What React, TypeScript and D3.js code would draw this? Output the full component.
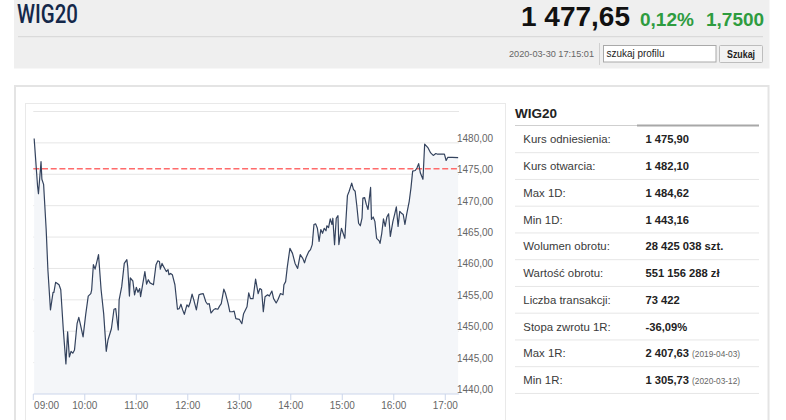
import React from "react";
import * as d3 from "d3";

// ---- data ----
const indexName = "WIG20";
const lastPrice = "1 477,65";
const changePct = "0,12%";
const changeAbs = "1,7500";
const quoteTime = "2020-03-30 17:15:01";
const referencePrice = 1475.9;

// minutes after 09:00 and index level
const sessionMinutes = [
  1, 5, 6, 9, 10, 12, 15, 17, 20, 23, 24, 26, 30, 32, 35, 38, 40, 42, 44, 46, 48, 51, 53, 55, 58, 61, 64, 67, 68, 70,
  72, 76, 79, 82, 85, 87, 91, 94, 96, 99, 100, 103, 106, 109, 110, 112, 113, 116, 118, 120, 122, 124, 125, 127, 130,
  132, 134, 136, 140, 143, 145, 147, 148, 150, 153, 155, 157, 158, 160, 162, 165, 168, 170, 172, 174, 176, 179, 181,
  183, 185, 187, 190, 193, 195, 198, 201, 203, 205, 207, 210, 212, 215, 217, 219, 222, 224, 227, 229, 232, 234, 236,
  240, 243, 245, 249, 251, 253, 256, 259, 262, 264, 266, 268, 270, 273, 275, 278, 280, 283, 285, 288, 291, 292, 294,
  296, 299, 302, 305, 308, 311, 314, 316, 318, 321, 323, 325, 327, 329, 331, 333, 335, 337, 339, 341, 342, 344, 346,
  348, 349, 351, 353, 355, 356, 359, 361, 363, 366, 368, 371, 373, 375, 377, 379, 381, 383, 384, 386, 388, 390, 393,
  394, 396, 398, 400, 403, 404, 406, 408, 410, 412, 414, 416, 419, 421, 423, 425, 427, 429, 431, 433, 435, 438, 440,
  442, 445, 447, 449, 451, 454, 456, 460, 463, 466, 469, 471, 476, 479, 481, 483, 488, 495,
];
const prices = [
  1480.7, 1473.1, 1471.9, 1477.0, 1474.2, 1473.4, 1466.2, 1459.8, 1453.4, 1456.2, 1456.2, 1457.8, 1457.4, 1456.6,
  1450.2, 1444.8, 1449.9, 1445.9, 1446.8, 1446.5, 1447.0, 1451.2, 1452.2, 1451.0, 1449.1, 1452.6, 1455.6, 1456.0,
  1456.6, 1460.6, 1459.9, 1462.2, 1456.6, 1452.8, 1446.8, 1448.6, 1450.4, 1453.5, 1453.6, 1450.2, 1455.0, 1457.1,
  1460.8, 1461.4, 1460.3, 1455.6, 1458.5, 1458.0, 1455.8, 1457.0, 1456.2, 1456.8, 1455.5, 1457.1, 1459.5, 1457.5,
  1458.2, 1457.7, 1457.4, 1460.6, 1461.2, 1461.1, 1459.9, 1460.8, 1460.0, 1459.5, 1459.8, 1459.0, 1459.2, 1459.0,
  1457.4, 1453.5, 1453.6, 1454.3, 1453.4, 1452.7, 1454.2, 1453.9, 1454.7, 1455.9, 1455.0, 1453.4, 1455.8, 1455.9,
  1456.0, 1454.7, 1454.3, 1454.4, 1452.9, 1453.4, 1453.6, 1453.5, 1454.0, 1454.4, 1456.7, 1456.0, 1454.4, 1453.1,
  1453.1, 1453.2, 1452.0, 1451.9, 1451.2, 1452.8, 1453.9, 1456.1, 1455.2, 1455.2, 1458.3, 1456.0, 1456.8, 1456.6,
  1453.1, 1455.5, 1455.8, 1455.6, 1456.4, 1455.2, 1454.5, 1455.0, 1456.0, 1455.8, 1457.4, 1457.9, 1460.3, 1463.2,
  1462.4, 1460.8, 1460.0, 1462.2, 1461.6, 1460.9, 1461.8, 1462.7, 1463.0, 1463.8, 1467.0, 1467.1, 1466.4, 1464.3,
  1466.2, 1465.6, 1466.4, 1466.0, 1466.8, 1466.5, 1467.9, 1467.0, 1468.0, 1463.8, 1468.0, 1468.4, 1463.8, 1466.4,
  1465.6, 1464.8, 1471.6, 1472.3, 1473.6, 1472.6, 1472.3, 1469.9, 1467.2, 1466.8, 1468.0, 1471.2, 1471.3, 1470.2,
  1469.4, 1472.9, 1467.8, 1468.2, 1467.5, 1464.8, 1464.4, 1464.0, 1465.6, 1467.9, 1466.7, 1468.2, 1468.7, 1465.1,
  1467.5, 1468.6, 1469.8, 1466.7, 1469.1, 1468.8, 1468.6, 1467.0, 1468.6, 1470.7, 1472.8, 1475.5, 1475.6, 1476.0,
  1476.7, 1475.2, 1474.2, 1479.8, 1479.2, 1478.4, 1478.0, 1478.3, 1478.2, 1478.2, 1478.2, 1477.2, 1477.7, 1477.7,
  1477.65,
];

const yTickValues = [1440, 1445, 1450, 1455, 1460, 1465, 1470, 1475, 1480];
const yGridValues = [1445, 1450, 1455, 1460, 1465, 1470, 1475, 1480, 1485];
const xTickHours = [9, 10, 11, 12, 13, 14, 15, 16, 17];

const statLabels = [
  "Kurs odniesienia:",
  "Kurs otwarcia:",
  "Max 1D:",
  "Min 1D:",
  "Wolumen obrotu:",
  "Wartość obrotu:",
  "Liczba transakcji:",
  "Stopa zwrotu 1R:",
  "Max 1R:",
  "Min 1R:",
];
const statValues = [
  "1 475,90",
  "1 482,10",
  "1 484,62",
  "1 443,16",
  "28 425 038 szt.",
  "551 156 288 zł",
  "73 422",
  "-36,09%",
  "2 407,63",
  "1 305,73",
];
const statDates = ["", "", "", "", "", "", "", "", "(2019-04-03)", "(2020-03-12)"];

// ---- styles ----
const SANS = "'Liberation Sans', Arial, sans-serif";
const GREEN = "#2e9c3f";

const OPEN = new Date(2020, 2, 30, 9, 0);

function PriceChart() {
  const x = d3
    .scaleTime()
    .domain([OPEN, d3.timeMinute.offset(OPEN, 496)])
    .range([33.3, 459]);
  const y = d3.scaleLinear().domain([1440, 1485]).range([394, 111.5]);
  const points = sessionMinutes.map((m, i) => ({ t: d3.timeMinute.offset(OPEN, m), v: prices[i] }));
  const line = d3
    .line<{ t: Date; v: number }>()
    .x((d) => x(d.t))
    .y((d) => y(d.v));
  const area = d3
    .area<{ t: Date; v: number }>()
    .x((d) => x(d.t))
    .y0(y(1440))
    .y1((d) => y(d.v));
  const fmt = d3.format(".2f");
  const tf = d3.timeFormat("%H:%M");
  const [x0, x1] = x.range();
  const refY = y(referencePrice);
  return (
    <g>
      {yGridValues.map((v) => (
        <line key={v} x1={x0} x2={x1} y1={y(v)} y2={y(v)} stroke="#e6e6e6" strokeWidth={1} />
      ))}
      <path d={area(points) || ""} fill="#f4f6f9" />
      <line
        x1={x0}
        x2={x1}
        y1={refY}
        y2={refY}
        stroke="#ff6b6b"
        strokeWidth={1.5}
        strokeDasharray="6,2.7"
      />
      <path d={line(points) || ""} fill="none" stroke="#34435e" strokeWidth={1.2} strokeLinejoin="round" />
      <line x1={x0} x2={x1} y1={y(1440)} y2={y(1440)} stroke="#ccd6eb" strokeWidth={1} />
      {xTickHours.map((h, i) => {
        const d = new Date(2020, 2, 30, h, 0);
        const px = x(d);
        return (
          <g key={h}>
            <line x1={px} x2={px} y1={y(1440)} y2={y(1440) + 6} stroke="#ccd6eb" />
            <text
              x={i === 0 ? px + 0.8 : px}
              y={409}
              textAnchor={i === 0 ? "start" : "middle"}
              fontFamily={SANS}
              fontSize={10}
              fill="#666"
            >
              {tf(d)}
            </text>
          </g>
        );
      })}
      {yTickValues.map((v) => (
        <text key={v} x={457} y={y(v) - 1} fontFamily={SANS} fontSize={10} fill="#666">
          {fmt(v).replace(".", ",")}
        </text>
      ))}
    </g>
  );
}

function StatsTable() {
  const top = 143.3;
  const pitch = 26.75;
  return (
    <g fontFamily={SANS}>
      <text x={515} y={117.5} fontSize={13.5} fontWeight="bold" fill="#222">
        {indexName}
      </text>
      <line x1={515} x2={759} y1={125.5} y2={125.5} stroke="#cfcfcf" strokeWidth={1} />
      <line x1={637} x2={759} y1={125.5} y2={125.5} stroke="#a8a8a8" strokeWidth={2} />
      {statLabels.map((lab, i) => {
        const by = top + pitch * i;
        return (
          <g key={lab}>
            <text x={523.3} y={by} fontSize={11.4} fill="#3a3a3a">
              {lab}
            </text>
            <text x={645.5} y={by} fontSize={11.2} fontWeight="bold" fill="#222">
              {statValues[i]}
              {statDates[i] ? (
                <tspan fontSize={8.3} fontWeight="normal" fill="#666" dx={3}>
                  {statDates[i]}
                </tspan>
              ) : null}
            </text>
            <line x1={515} x2={759} y1={by + 9.4} y2={by + 9.4} stroke="#e6e6e6" strokeWidth={1} />
          </g>
        );
      })}
    </g>
  );
}

function Header() {
  return (
    <g>
      <rect x={14} y={0} width={755.5} height={68.5} fill="#efefef" />
      <line x1={18} x2={763} y1={36.7} y2={36.7} stroke="#d6d6d6" strokeWidth={1} />
      <text
        x={17}
        y={22.5}
        fontFamily="Roboto, 'Open Sans', sans-serif"
        fontSize={25}
        fontWeight={500}
        fill="#14284a"
        textLength={61}
        lengthAdjust="spacingAndGlyphs"
      >
        {indexName}
      </text>
      <text x={521} y={26} fontFamily={SANS} fontWeight="bold" fontSize={28} fill="#111">
        {lastPrice}
      </text>
      <text x={640} y={25.5} fontFamily={SANS} fontWeight="bold" fontSize={19} fill={GREEN}>
        {changePct}
      </text>
      <text x={706} y={25.5} fontFamily={SANS} fontWeight="bold" fontSize={19} fill={GREEN}>
        {changeAbs}
      </text>
      <text
        x={594}
        y={57}
        textAnchor="end"
        fontFamily={SANS}
        fontSize={9}
        fill="#666"
        textLength={85}
        lengthAdjust="spacingAndGlyphs"
      >
        {quoteTime}
      </text>
      <line x1={599.5} x2={599.5} y1={43} y2={65} stroke="#d0d0d0" />
      <rect x={603.5} y={45.5} width={112.5} height={16.5} fill="#fff" stroke="#a9a9a9" />
      <text
        x={606.5}
        y={56.7}
        fontFamily={SANS}
        fontSize={10.5}
        fill="#222"
        textLength={58}
        lengthAdjust="spacingAndGlyphs"
      >
        szukaj profilu
      </text>
      <rect x={719.5} y={45.5} width={43} height={17} fill="#f2f2f2" stroke="#bdbdbd" rx={1} />
      <text
        x={741}
        y={58.3}
        textAnchor="middle"
        fontFamily={SANS}
        fontSize={10.5}
        fontWeight="bold"
        fill="#222"
        textLength={28}
        lengthAdjust="spacingAndGlyphs"
      >
        Szukaj
      </text>
    </g>
  );
}

export default function App() {
  return (
    <div style={{ position: "absolute", left: 0, top: 0, width: 786, height: 420, background: "#fff" }}>
      <svg width={786} height={420} viewBox="0 0 786 420" style={{ display: "block" }}>
        <rect width={786} height={420} fill="#fff" />
        <Header />
        <rect x={15} y={86} width={753.5} height={340} fill="#fff" stroke="#e4e4e4" strokeWidth={2} />
        <rect x={25.5} y={103.5} width={480} height={330} fill="#fff" stroke="#e9e9e9" strokeWidth={1} />
        <PriceChart />
        <StatsTable />
      </svg>
    </div>
  );
}
